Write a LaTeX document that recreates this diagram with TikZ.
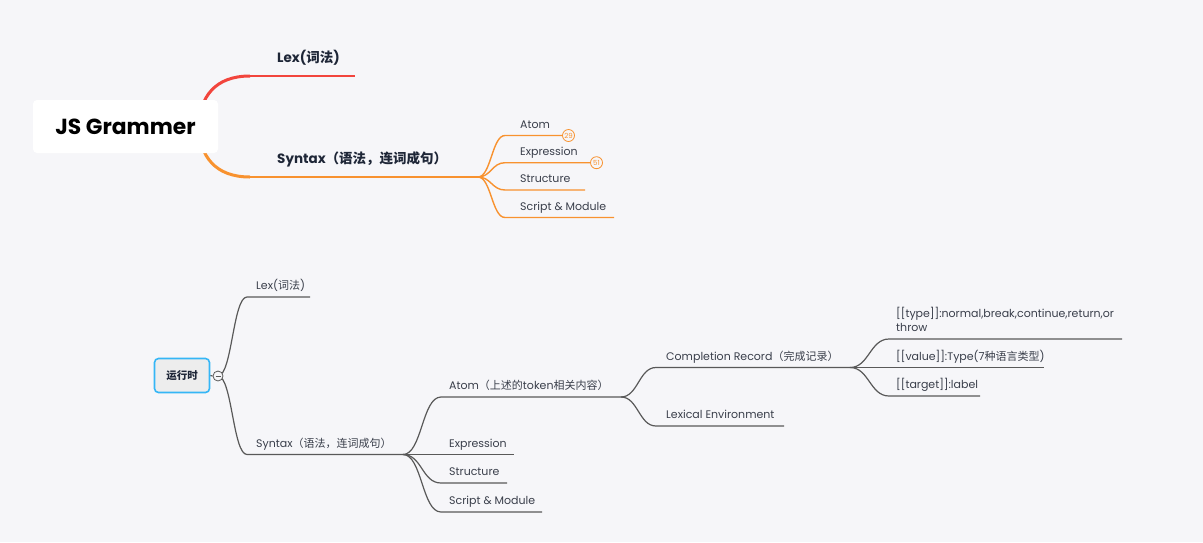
\documentclass[tikz,border=0pt]{standalone}
\usepackage{fontspec}
\setmainfont{Poppins}
\newfontfamily\cjk{Noto Sans CJK SC}
\usetikzlibrary{positioning}

\definecolor{pagebg}{HTML}{F6F6F9}
\definecolor{lexred}{HTML}{F2453D}
\definecolor{synorange}{HTML}{F8922F}
\definecolor{treegray}{HTML}{595959}
\definecolor{inkdark}{HTML}{1E2637}
\definecolor{inkgray}{HTML}{3A3F4B}
\definecolor{rtblue}{HTML}{35B6F6}
\definecolor{rtfill}{HTML}{EDEDED}

\pgfdeclarelayer{links}
\pgfsetlayers{links,main}

\begin{document}
\begin{tikzpicture}[x=1pt, y=-1pt,
    mainbranch/.style={anchor=south west, inner xsep=27pt, inner ysep=10pt, text depth=3pt, font=\bfseries\fontsize{13.5}{15}\selectfont, text=inkdark},
    subtopic/.style={anchor=south west, inner xsep=9pt, inner ysep=4pt, text depth=3pt, align=left, font=\fontsize{11}{14}\selectfont, text=inkgray},
    toplink/.style={synorange, line width=1.4pt},
    treelink/.style={treegray, line width=1.2pt},
    countbadge/.style={circle, draw=synorange, fill=pagebg, line width=0.8pt, inner sep=0pt, minimum size=12pt, text=synorange, font=\fontsize{7}{7}\selectfont}
]
    \useasboundingbox (0,0) rectangle (1203,542);
    \begin{pgfonlayer}{links}
        \fill[pagebg] (0,0) rectangle (1203,542);
    \end{pgfonlayer}

    % JS Grammer
    \node[rectangle, rounded corners=4pt, fill=white, minimum width=185pt, minimum height=53pt, font=\bfseries\fontsize{21.8}{24}\selectfont, text=black] (jsroot) at (125.5,126.5) {JS Grammer};
    \node[mainbranch] (toplex) at (250,76) {Lex({\cjk 词法})};
    \node[mainbranch] (topsyn) at (250,177) {Syntax{\cjk （语法，连词成句）}};
    \coordinate (toplexend) at (355,76);
    \coordinate (topfork) at (478,177);

    \node[subtopic, inner xsep=15pt] (topatom) at (505,135.5) {Atom};
    \node[subtopic, inner xsep=15pt] (topexpr) at (505,162.7) {Expression};
    \node[subtopic, inner xsep=15pt] (topstruct) at (505,190) {Structure};
    \node[subtopic, inner xsep=15pt] (topscript) at (505,217.5) {Script \& Module};
    \node[countbadge] (atomcnt) at (568.5,135.5) {29};
    \node[countbadge] (exprcnt) at (596.5,162.7) {51};
    \coordinate (structend) at (585,190);
    \coordinate (scriptend) at (614,217.5);

    % 运行时
    \node[rectangle, rounded corners=4pt, draw=rtblue, line width=1.6pt, fill=rtfill, minimum width=55pt, minimum height=34pt, font=\bfseries\fontsize{10.5}{12}\selectfont, text=inkdark] (rtroot) at (182,375.5) {\cjk 运行时};
    \node[circle, draw=treegray, fill=pagebg, line width=0.8pt, minimum size=10pt, inner sep=0pt] (rtfold) at (218,376) {};
    \draw[treegray, line width=0.8pt] ([xshift=-2.5pt]rtfold.center) -- ([xshift=2.5pt]rtfold.center);

    \node[subtopic] (botlex) at (247,297) {Lex({\cjk 词法})};
    \node[subtopic] (botsyn) at (247,454.5) {Syntax{\cjk （语法，连词成句）}};
    \coordinate (botlexend) at (310,297);
    \coordinate (botfork) at (403,454.5);

    \node[subtopic, inner xsep=8pt] (batom) at (441,397) {Atom{\cjk （上述的}token{\cjk 相关内容）}};
    \node[subtopic, inner xsep=8pt] (bexpr) at (441,454.5) {Expression};
    \node[subtopic, inner xsep=8pt] (bstruct) at (441,483) {Structure};
    \node[subtopic, inner xsep=8pt] (bscript) at (441,512) {Script \& Module};
    \coordinate (atomfork) at (621,397);
    \coordinate (bexprend) at (514,454.5);
    \coordinate (bstructend) at (507,483);
    \coordinate (bscriptend) at (542,512);

    \node[subtopic, inner xsep=10pt] (comprec) at (656,367.5) {Completion Record{\cjk （完成记录）}};
    \node[subtopic, inner xsep=10pt] (lexenv) at (656,426) {Lexical Environment};
    \coordinate (compfork) at (850,367.5);
    \coordinate (lexenvend) at (784,426);

    \node[subtopic, inner xsep=7pt] (rectype) at (889,339) {[[type]]:normal,break,continue,return,or\\throw};
    \node[subtopic, inner xsep=7pt] (recvalue) at (889,367.5) {[[value]]:Type(7{\cjk 种语言类型})};
    \node[subtopic, inner xsep=7pt] (rectarget) at (889,396) {[[target]]:label};
    \coordinate (rectypeend) at (1122,339);
    \coordinate (recvalueend) at (1044,367.5);
    \coordinate (rectargetend) at (980,396);

    \begin{pgfonlayer}{links}
        % main branches
        \draw[lexred, line width=3pt] ([xshift=-20pt]jsroot.east) .. controls +(2,-30) and +(-35,0) .. (toplex.south west);
        \draw[lexred, line width=2pt] (toplex.south west) -- (toplexend);
        \draw[synorange, line width=3pt] ([xshift=-20pt]jsroot.east) .. controls +(2,30) and +(-35,0) .. (topsyn.south west);
        \draw[synorange, line width=2pt] (topsyn.south west) -- (topfork);

        \draw[toplink] (topfork) .. controls +(13,0) and +(-13,0) .. (topatom.south west) -- (atomcnt);
        \draw[toplink] (topfork) .. controls +(13,0) and +(-13,0) .. (topexpr.south west) -- (exprcnt);
        \draw[toplink] (topfork) .. controls +(13,0) and +(-13,0) .. (topstruct.south west) -- (structend);
        \draw[toplink] (topfork) .. controls +(13,0) and +(-13,0) .. (topscript.south west) -- (scriptend);

        % runtime tree
        \draw[treelink] (rtroot.east) -- (rtfold.west);
        \draw[treelink] (rtfold.center) .. controls +(14,0) and +(-14,0) .. (botlex.south west) -- (botlexend);
        \draw[treelink] (rtfold.center) .. controls +(14,0) and +(-14,0) .. (botsyn.south west) -- (botfork);

        \draw[treelink] (botfork) .. controls +(19,0) and +(-19,0) .. (batom.south west) -- (atomfork);
        \draw[treelink] (botfork) -- (bexpr.south west) -- (bexprend);
        \draw[treelink] (botfork) .. controls +(19,0) and +(-19,0) .. (bstruct.south west) -- (bstructend);
        \draw[treelink] (botfork) .. controls +(19,0) and +(-19,0) .. (bscript.south west) -- (bscriptend);

        \draw[treelink] (atomfork) .. controls +(17,0) and +(-17,0) .. (comprec.south west) -- (compfork);
        \draw[treelink] (atomfork) .. controls +(17,0) and +(-17,0) .. (lexenv.south west) -- (lexenvend);

        \draw[treelink] (compfork) .. controls +(19,0) and +(-19,0) .. (rectype.south west) -- (rectypeend);
        \draw[treelink] (compfork) -- (recvalue.south west) -- (recvalueend);
        \draw[treelink] (compfork) .. controls +(19,0) and +(-19,0) .. (rectarget.south west) -- (rectargetend);
    \end{pgfonlayer}
\end{tikzpicture}
\end{document}
